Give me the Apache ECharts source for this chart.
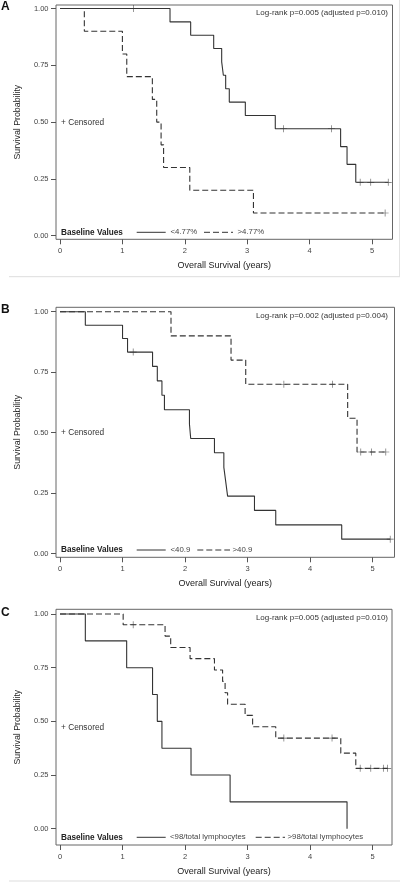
<!DOCTYPE html>
<html><head><meta charset="utf-8">
<script src="https://cdn.jsdelivr.net/npm/echarts@6/dist/echarts.min.js"></script>
<style>html,body{margin:0;padding:0;background:#fff}#c{width:400px;height:882px}</style>
</head><body><div id="c"></div>
<script>
// ---- tick labels ----
const xTicks = [0, 1, 2, 3, 4, 5];
const yTicks = [0, 0.25, 0.5, 0.75, 1];

// ---- Panel A ----
const aLowTimes   = [0, 1.763, 2.094, 2.463, 2.591, 2.618, 2.655, 2.713, 2.97, 3.45, 4.497, 4.60, 4.74, 5.26];
const aLowSurv    = [1, 0.941, 0.882, 0.824, 0.765, 0.706, 0.647, 0.588, 0.529, 0.471, 0.392, 0.314, 0.235, 0.235];
const aLowCensor  = [1.175, 3.58, 4.35, 4.81, 4.98, 5.26];
const aHighTimes  = [0, 0.39, 1.0, 1.07, 1.48, 1.55, 1.62, 1.66, 2.08, 3.10, 5.21];
const aHighSurv   = [1, 0.9, 0.8, 0.7, 0.6, 0.5, 0.4, 0.3, 0.2, 0.1, 0.1];
const aHighCensor = [5.21];
const aLegend = ['<4.77%', '>4.77%'];
const aLogRank = 'Log-rank p=0.005 (adjusted p=0.010)';

// ---- Panel B ----
const bLowTimes   = [0, 0.405, 1.0, 1.08, 1.48, 1.556, 1.63, 1.67, 2.07, 2.09, 2.47, 2.62, 2.65, 2.68, 3.11, 3.45, 4.505, 5.28];
const bLowSurv    = [1, 0.944, 0.889, 0.833, 0.774, 0.714, 0.655, 0.595, 0.536, 0.476, 0.417, 0.357, 0.298, 0.238, 0.179, 0.119, 0.060, 0.060];
const bLowCensor  = [1.17, 5.28];
const bHighTimes  = [0, 1.775, 2.735, 2.97, 4.60, 4.75, 5.21];
const bHighSurv   = [1, 0.9, 0.8, 0.7, 0.56, 0.42, 0.42];
const bHighCensor = [3.58, 4.355, 4.81, 4.98, 5.21];
const bLegend = ['<40.9', '>40.9'];
const bLogRank = 'Log-rank p=0.002 (adjusted p=0.004)';

// ---- Panel C ----
const cLowTimes   = [0, 0.405, 1.066, 1.48, 1.556, 1.63, 2.095, 2.72, 4.59];
const cLowSurv    = [1, 0.875, 0.75, 0.625, 0.5, 0.375, 0.25, 0.125, 0];
const cLowCensor  = [];
const cHighTimes  = [0, 1.01, 1.68, 1.77, 2.08, 2.47, 2.60, 2.64, 2.68, 2.96, 3.08, 3.45, 4.49, 4.73, 5.24];
const cHighSurv   = [1, 0.95, 0.897, 0.844, 0.792, 0.739, 0.686, 0.633, 0.580, 0.528, 0.475, 0.422, 0.352, 0.281, 0.281];
const cHighCensor = [1.17, 3.58, 4.35, 4.80, 4.97, 5.17, 5.24];
const cLegend = ['<98/total lymphocytes', '>98/total lymphocytes'];
const cLogRank = 'Log-rank p=0.005 (adjusted p=0.010)';

const letters = ['A', 'B', 'C'];
const xTitle = 'Overall Survival (years)';
const yTitle = 'Survival Probability';
const legendTitle = 'Baseline Values';
const censorLabel = '+ Censored';

// ---- layout (pixels) ----
const FONT = 'Liberation Sans, Arial, sans-serif';
const INK = '#333';
const panels = [
  {grid:{left:56, top:5, width:336.5, height:234.3}, x:[-0.0641, 5.3285], y:[-0.0158, 1.0154],
   low:[aLowTimes,aLowSurv,aLowCensor], high:[aHighTimes,aHighSurv,aHighCensor], legend:aLegend, logrank:aLogRank,
   letterY:7.5, logY:12.3, cenY:122.3, legY:232.3, leg:[136.7,165.7,170.5,204,233,237.5]},
  {grid:{left:56, top:307.3, width:338.5, height:250}, x:[-0.064, 5.349], y:[-0.0149, 1.0182],
   low:[bLowTimes,bLowSurv,bLowCensor], high:[bHighTimes,bHighSurv,bHighCensor], legend:bLegend, logrank:bLogRank,
   letterY:310.5, logY:315.7, cenY:432.7, legY:550, leg:[136.7,165.7,170.5,197.3,230,232.5]},
  {grid:{left:56, top:609.3, width:336, height:235.7}, x:[-0.064, 5.309], y:[-0.0759, 1.0219],
   low:[cLowTimes,cLowSurv,cLowCensor], high:[cHighTimes,cHighSurv,cHighCensor], legend:cLegend, logrank:cLogRank,
   letterY:613.5, logY:617.7, cenY:727.7, legY:837.3, leg:[136.7,165.7,170,255.7,285,287.5]}
];

function survAt(times, surv, t) {
  let s = surv[0];
  for (let i = 0; i < times.length; i++) { if (times[i] <= t + 1e-9) s = surv[i]; }
  return s;
}

const PLUS = 'path://M-0.09,-1 L0.09,-1 L0.09,-0.09 L1,-0.09 L1,0.09 L0.09,0.09 L0.09,1 L-0.09,1 L-0.09,0.09 L-1,0.09 L-1,-0.09 L-0.09,-0.09 Z';

const grids = [], xAxes = [], yAxes = [], series = [], graphics = [];
panels.forEach((p, i) => {
  grids.push(Object.assign({show:true, borderColor:'#666', borderWidth:1, backgroundColor:'transparent'}, p.grid));
  xAxes.push({type:'value', gridIndex:i, min:p.x[0], max:p.x[1],
    axisLine:{show:false, onZero:false},
    axisTick:{show:true, customValues:xTicks, length:5, lineStyle:{color:'#555'}},
    axisLabel:{show:true, customValues:xTicks, fontSize:7.5, color:'#444', fontFamily:FONT, margin:8},
    splitLine:{show:false},
    name:xTitle, nameLocation:'middle', nameGap:22,
    nameTextStyle:{fontSize:9, color:'#222', fontFamily:FONT}});
  yAxes.push({type:'value', gridIndex:i, min:p.y[0], max:p.y[1],
    axisLine:{show:false, onZero:false},
    axisTick:{show:true, customValues:yTicks, length:5, lineStyle:{color:'#555'}},
    axisLabel:{show:true, customValues:yTicks, fontSize:7.5, color:'#444', fontFamily:FONT, margin:7.5,
      formatter:v => v.toFixed(2)},
    splitLine:{show:false},
    name:yTitle, nameLocation:'middle', nameGap:34,
    nameTextStyle:{fontSize:8.8, color:'#222', fontFamily:FONT}});
  const groups = [[p.low, 'solid', p.legend[0]], [p.high, [6,3], p.legend[1]]];
  groups.forEach(([d, type, name]) => {
    const [times, surv, cens] = d;
    series.push({type:'line', name:name, xAxisIndex:i, yAxisIndex:i, step:'end', showSymbol:false,
      symbol:'none', animation:false, silent:true,
      lineStyle:{color:INK, width:1.1, type:type},
      data: times.map((t, k) => [t, surv[k]])});
    series.push({type:'scatter', name:name + ' censored', xAxisIndex:i, yAxisIndex:i, symbol:PLUS,
      symbolSize:7, animation:false, silent:true, itemStyle:{color:INK},
      data: cens.map(t => [t, survAt(times, surv, t)])});
  });
  // texts
  graphics.push({type:'text', left:1, top:p.letterY - 6.5, style:{text:letters[i], font:'bold 12px ' + FONT, fill:'#111'}});
  graphics.push({type:'text', x:388, y:p.logY, style:{text:p.logrank, font:'8px ' + FONT, fill:INK, align:'right', verticalAlign:'middle'}});
  graphics.push({type:'text', x:61, y:p.cenY, style:{text:censorLabel, font:'8.3px ' + FONT, fill:INK, verticalAlign:'middle'}});
  graphics.push({type:'text', x:61, y:p.legY, style:{text:legendTitle, font:'bold 8.2px ' + FONT, fill:'#222', verticalAlign:'middle'}});
  const L = p.leg;
  graphics.push({type:'line', shape:{x1:L[0], y1:p.legY, x2:L[1], y2:p.legY}, style:{stroke:INK, lineWidth:1}});
  graphics.push({type:'text', x:L[2], y:p.legY, style:{text:p.legend[0], font:'7.8px ' + FONT, fill:'#444', verticalAlign:'middle'}});
  graphics.push({type:'line', shape:{x1:L[3], y1:p.legY, x2:L[4], y2:p.legY}, style:{stroke:INK, lineWidth:1, lineDash:[6,3]}});
  graphics.push({type:'text', x:L[5], y:p.legY, style:{text:p.legend[1], font:'7.8px ' + FONT, fill:'#444', verticalAlign:'middle'}});
});
// light panel frames
graphics.push({type:'line', shape:{x1:9, y1:276.7, x2:400, y2:276.7}, style:{stroke:'#ddd', lineWidth:1}});
graphics.push({type:'line', shape:{x1:399.5, y1:0, x2:399.5, y2:277}, style:{stroke:'#e2e2e2', lineWidth:1}});
graphics.push({type:'line', shape:{x1:9, y1:881, x2:400, y2:881}, style:{stroke:'#ddd', lineWidth:1}});

const chart = echarts.init(document.getElementById('c'), null, {renderer:'canvas'});
chart.setOption({animation:false, backgroundColor:'#fff', grid:grids, xAxis:xAxes, yAxis:yAxes, series:series, graphic:graphics});
</script></body></html>
